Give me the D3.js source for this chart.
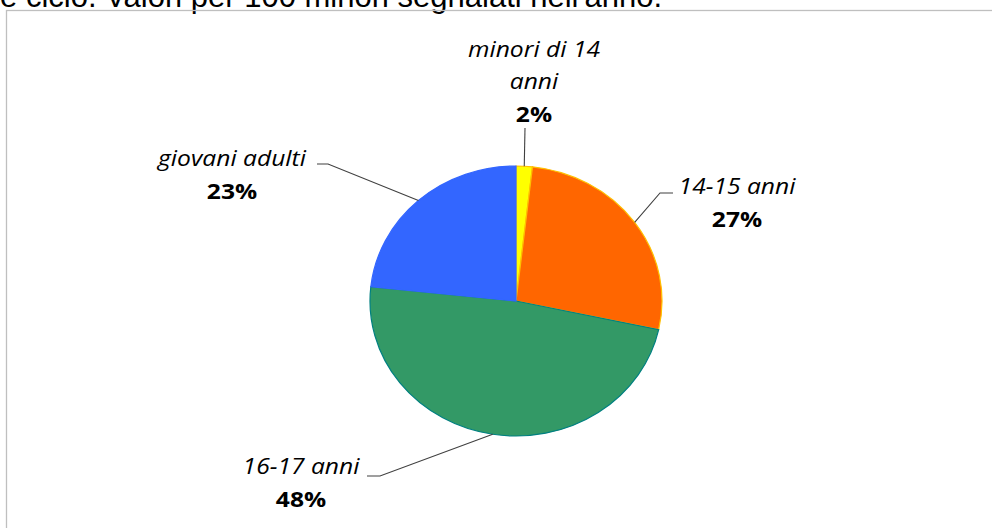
<!DOCTYPE html>
<html><head><meta charset="utf-8">
<script src="https://cdn.jsdelivr.net/npm/d3@7"></script>
<style>body{margin:0;background:#fff;overflow:hidden}svg{display:block}</style>
</head><body>
<svg id="c" width="992" height="528"></svg>
<script>
// Data
const categories = ["minori di 14 anni", "14-15 anni", "16-17 anni", "giovani adulti"];
const labelLines = [["minori di 14", "anni"], ["14-15 anni"], ["16-17 anni"], ["giovani adulti"]];
const values = [1.8, 26.6, 48.3, 23.3];
const colors = ["#FFFF00", "#FF6600", "#339966", "#3366FF"];
const strokes = ["#FFC000", "#FFC000", "#008080", "#3366FF"];
const titleText = "per classe di età e ciclo. Valori per 100 minori segnalati nell'anno.";

// Layout
const cx = 516, cy = 301, rx = 146, ry = 135;
const layout = [
  {elbow: [525, 128], end: null, tx: 534, ty: 57},
  {elbow: [660, 193], end: [673, 193], tx: 737, ty: 194},
  {elbow: [380, 476], end: [367, 476], tx: 301, ty: 474},
  {elbow: [328, 164], end: [317, 164], tx: 232, ty: 166}
];
const sx = 1.12;

const svg = d3.select("#c");

// Title (clipped at top)
svg.append("text").attr("x", 662).attr("y", 7).attr("text-anchor", "end")
  .attr("font-family", "Liberation Sans, Arial, sans-serif").attr("font-size", 31)
  .attr("fill", "#000").text(titleText);

// Chart area border
svg.append("rect").attr("x", 6.5).attr("y", 10.5).attr("width", 1000).attr("height", 600)
  .attr("fill", "none").attr("stroke", "#BFBFBF").attr("stroke-width", 1.3);

const pie = d3.pie().sort(null).value(d => d);
const arcs = pie(values);
const arc = d3.arc().innerRadius(0).outerRadius(ry);

const g = svg.append("g").attr("transform", `translate(${cx},${cy}) scale(${rx/ry},1)`);
g.selectAll("path").data(arcs).enter().append("path")
  .attr("d", arc)
  .attr("fill", (d, i) => colors[i])
  .attr("stroke", (d, i) => strokes[i])
  .attr("stroke-width", 1.2)
  .attr("vector-effect", "non-scaling-stroke");

// Leader lines
arcs.forEach((d, i) => {
  const a = (d.startAngle + d.endAngle) / 2;
  const p = [cx + rx * Math.sin(a), cy - ry * Math.cos(a)];
  const L = layout[i];
  const pts = [p, L.elbow];
  if (L.end) pts.push(L.end);
  svg.append("path").attr("d", d3.line()(pts))
    .attr("fill", "none").attr("stroke", "#404040").attr("stroke-width", 1.1);
});

// Labels
arcs.forEach((d, i) => {
  const L = layout[i];
  const lg = svg.append("g").attr("transform", `translate(${L.tx},${L.ty}) scale(${sx},1)`);
  const t = lg.append("text").attr("text-anchor", "middle")
    .attr("font-family", "'Open Sans', sans-serif").attr("font-size", 22).attr("fill", "#000");
  labelLines[i].forEach((ln, k) => {
    t.append("tspan").attr("x", 0).attr("y", k * 32).attr("font-style", "italic").text(ln);
  });
  t.append("tspan").attr("x", 0).attr("y", labelLines[i].length * 32 + 1)
    .attr("font-weight", "bold").text(Math.round(d.data) + "%");
});
</script>
</body></html>
